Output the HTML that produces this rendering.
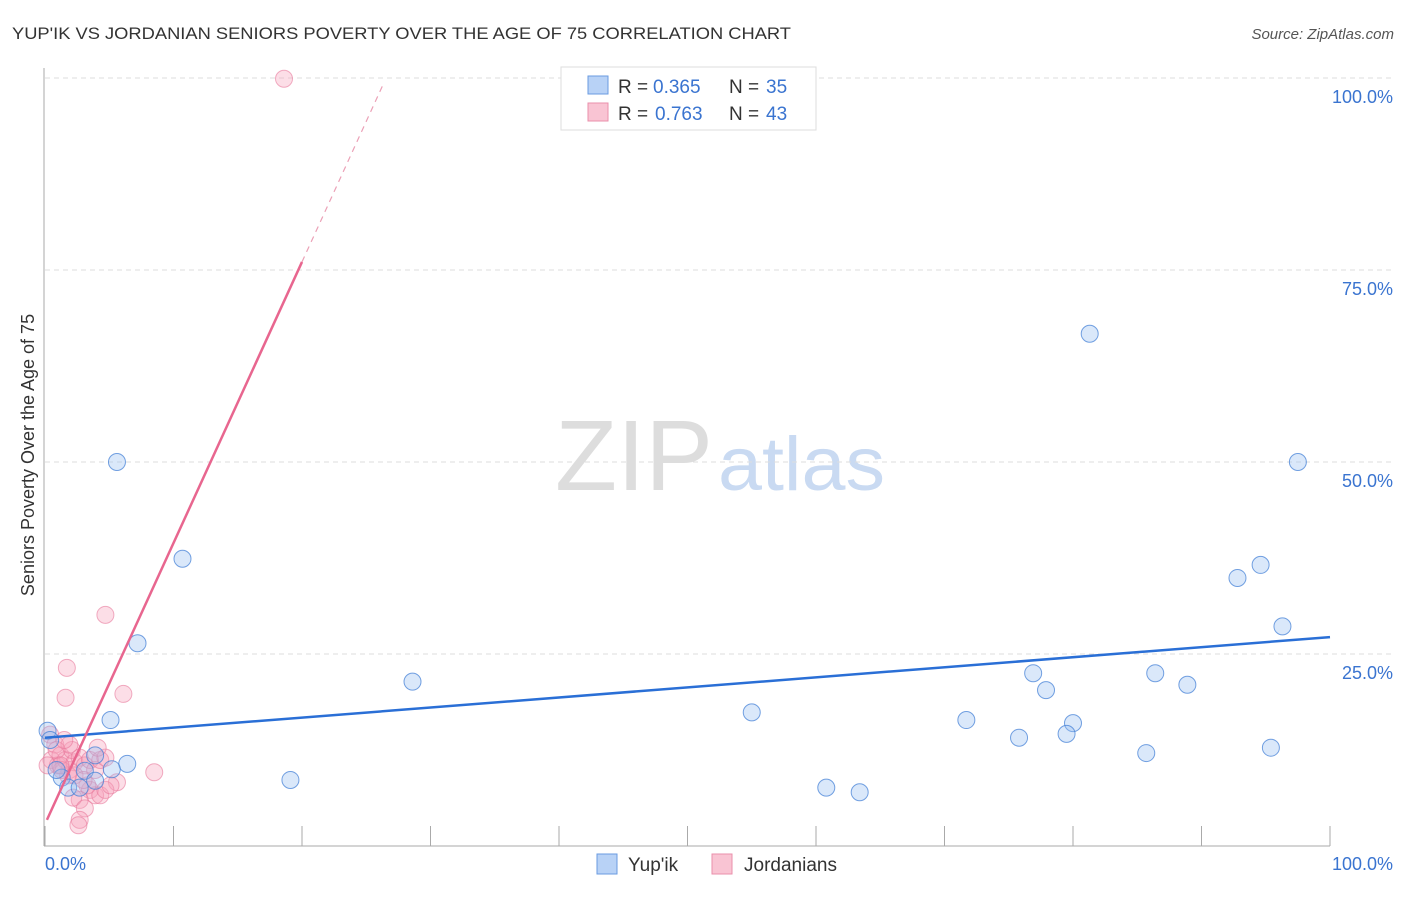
<!DOCTYPE html><html><head><meta charset="utf-8"><style>
body{margin:0;background:#fff;font-family:"Liberation Sans",sans-serif;}
svg text{font-family:"Liberation Sans",sans-serif;}
</style></head><body>
<svg width="1406" height="892">
<text x="12" y="39" font-size="17" fill="#333" textLength="779" lengthAdjust="spacingAndGlyphs">YUP'IK VS JORDANIAN SENIORS POVERTY OVER THE AGE OF 75 CORRELATION CHART</text>
<text x="1394" y="39" font-size="15" fill="#555" text-anchor="end" font-style="italic">Source: ZipAtlas.com</text>
<text x="555" y="490" font-size="100" fill="#ddd" textLength="158" lengthAdjust="spacingAndGlyphs" font-family="Liberation Serif">ZIP</text>
<text x="718" y="490" font-size="76" fill="#c9daf2" textLength="167" lengthAdjust="spacingAndGlyphs">atlas</text>
<g id="grid"></g><g id="marks"></g>
<text transform="translate(34,455) rotate(-90)" font-size="18" fill="#333" text-anchor="middle">Seniors Poverty Over the Age of 75</text>
<rect x="561" y="67" width="255" height="63" fill="#fff" stroke="#ddd"/>
<rect x="588" y="76" width="20" height="18" fill="#b8d2f6" stroke="#6a9be0"/>
<rect x="588" y="103" width="20" height="18" fill="#f9c4d3" stroke="#ea8fab"/>
<g font-size="19">
<text x="618" y="93" fill="#333">R =</text><text x="653" y="93" fill="#3a74d0">0.365</text><text x="729" y="93" fill="#333">N =</text><text x="766" y="93" fill="#3a74d0">35</text></g>
<g font-size="19">
<text x="618" y="120" fill="#333">R =</text><text x="655" y="120" fill="#3a74d0">0.763</text><text x="729" y="120" fill="#333">N =</text><text x="766" y="120" fill="#3a74d0">43</text></g>
<rect x="597" y="854" width="20" height="20" fill="#b8d2f6" stroke="#6a9be0"/>
<text x="628" y="871" font-size="19" fill="#333">Yup'ik</text>
<rect x="712" y="854" width="20" height="20" fill="#f9c4d3" stroke="#ea8fab"/>
<text x="744" y="871" font-size="19" fill="#333">Jordanians</text>
</svg>
<script>
const yTicks=[25,50,75,100];
const yTickLabels=["25.0%","50.0%","75.0%","100.0%"];
const xTickLabels=["0.0%","100.0%"];
const yupikX=[5.6,10.7,7.2,5.1,3.9,6.4,5.2,3.1,1.3,3.9,1.8,2.7,0.2,19.1,28.6,55.0,60.8,63.4,71.7,75.8,76.9,77.9,80.0,79.5,81.3,85.7,86.4,88.9,92.8,94.6,96.3,97.5,95.4,0.4,0.9];
const yupikY=[50.0,37.4,26.4,16.4,11.8,10.7,10.0,9.8,8.9,8.5,7.6,7.6,15.0,8.6,21.4,17.4,7.6,7.0,16.4,14.1,22.5,20.3,16.0,14.6,66.7,12.1,22.5,21.0,34.9,36.6,28.6,50.0,12.8,13.8,9.9];
const jordX=[18.6,4.7,1.7,1.6,6.1,8.5,5.6,0.4,0.8,0.5,1.0,1.2,1.6,1.9,2.3,2.1,2.7,3.1,3.5,3.9,4.3,4.7,1.8,1.3,0.2,3.5,3.9,2.7,2.2,3.1,2.7,2.6,4.3,3.3,4.7,1.9,0.9,1.5,4.1,2.3,3.0,5.1,1.2];
const jordY=[99.9,30.1,23.2,19.3,19.8,9.6,8.3,14.5,13.2,11.2,10.5,11.8,11.2,9.9,10.9,12.5,11.5,10.5,11.2,9.9,11.2,11.5,9.2,9.9,10.5,7.3,6.6,6.0,6.3,4.9,3.4,2.7,6.6,7.9,7.3,13.2,12.5,13.8,12.8,9.2,8.6,7.9,10.5];
const yupikTrend=[14.1,27.2];
const jordSlope=3.66, jordIntercept=2.85;
const X=v=>45+v*12.85, Y=v=>846-v*7.68;
const NS="http://www.w3.org/2000/svg";
function mk(t,a,p){const e=document.createElementNS(NS,t);for(const k in a)e.setAttribute(k,a[k]);p.appendChild(e);return e;}
const g=document.getElementById('grid'), m=document.getElementById('marks');
yTicks.forEach((t,i)=>{
 const l=mk('line',{x1:45,x2:1395,y1:Y(t),y2:Y(t),stroke:'#ddd','stroke-dasharray':'5,4'},g);
 
 
 const tx=mk('text',{x:1393,y:Y(t)+25,'font-size':18,fill:'#3a74d0','text-anchor':'end'},g);tx.textContent=yTickLabels[i];
 
 
});
const ax=mk('line',{x1:44,x2:44,y1:68,y2:846,stroke:'#aaa'},g);


const bx=mk('line',{x1:44,x2:1330,y1:846,y2:846,stroke:'#aaa'},g);


for(let i=0;i<=10;i++){const t=mk('line',{x1:X(i*10),x2:X(i*10),y1:826,y2:846,stroke:'#aaa'},g);
 
 }
[[0,'start',45],[100,'end',1393]].forEach((d,i)=>{const tx=mk('text',{x:d[2],y:870,'font-size':18,fill:'#3a74d0','text-anchor':d[1]},g);tx.textContent=xTickLabels[i];
 
 });
jordX.forEach((x,i)=>{const c=mk('circle',{cx:X(x),cy:Y(jordY[i]),r:8.5,fill:'rgba(246,160,186,0.35)',stroke:'rgba(232,120,155,0.6)'},m);
 
 });
yupikX.forEach((x,i)=>{const c=mk('circle',{cx:X(x),cy:Y(yupikY[i]),r:8.5,fill:'rgba(150,190,240,0.35)',stroke:'rgba(70,130,215,0.75)'},m);
 
 });
const bl=mk('line',{x1:X(0),y1:Y(yupikTrend[0]),x2:X(100),y2:Y(yupikTrend[1]),stroke:'#2a6fd6','stroke-width':2.5},m);


const x0=0.15,x1=20,x2=26.3;
const pl=mk('line',{x1:X(x0),y1:Y(jordIntercept+jordSlope*x0),x2:X(x1),y2:Y(jordIntercept+jordSlope*x1),stroke:'#e8668f','stroke-width':2.5},m);


const pd=mk('line',{x1:X(x1),y1:Y(jordIntercept+jordSlope*x1),x2:X(x2),y2:Y(jordIntercept+jordSlope*x2),stroke:'#eba0b6','stroke-width':1.2,'stroke-dasharray':'6,5'},m);


</script>
</body></html>
